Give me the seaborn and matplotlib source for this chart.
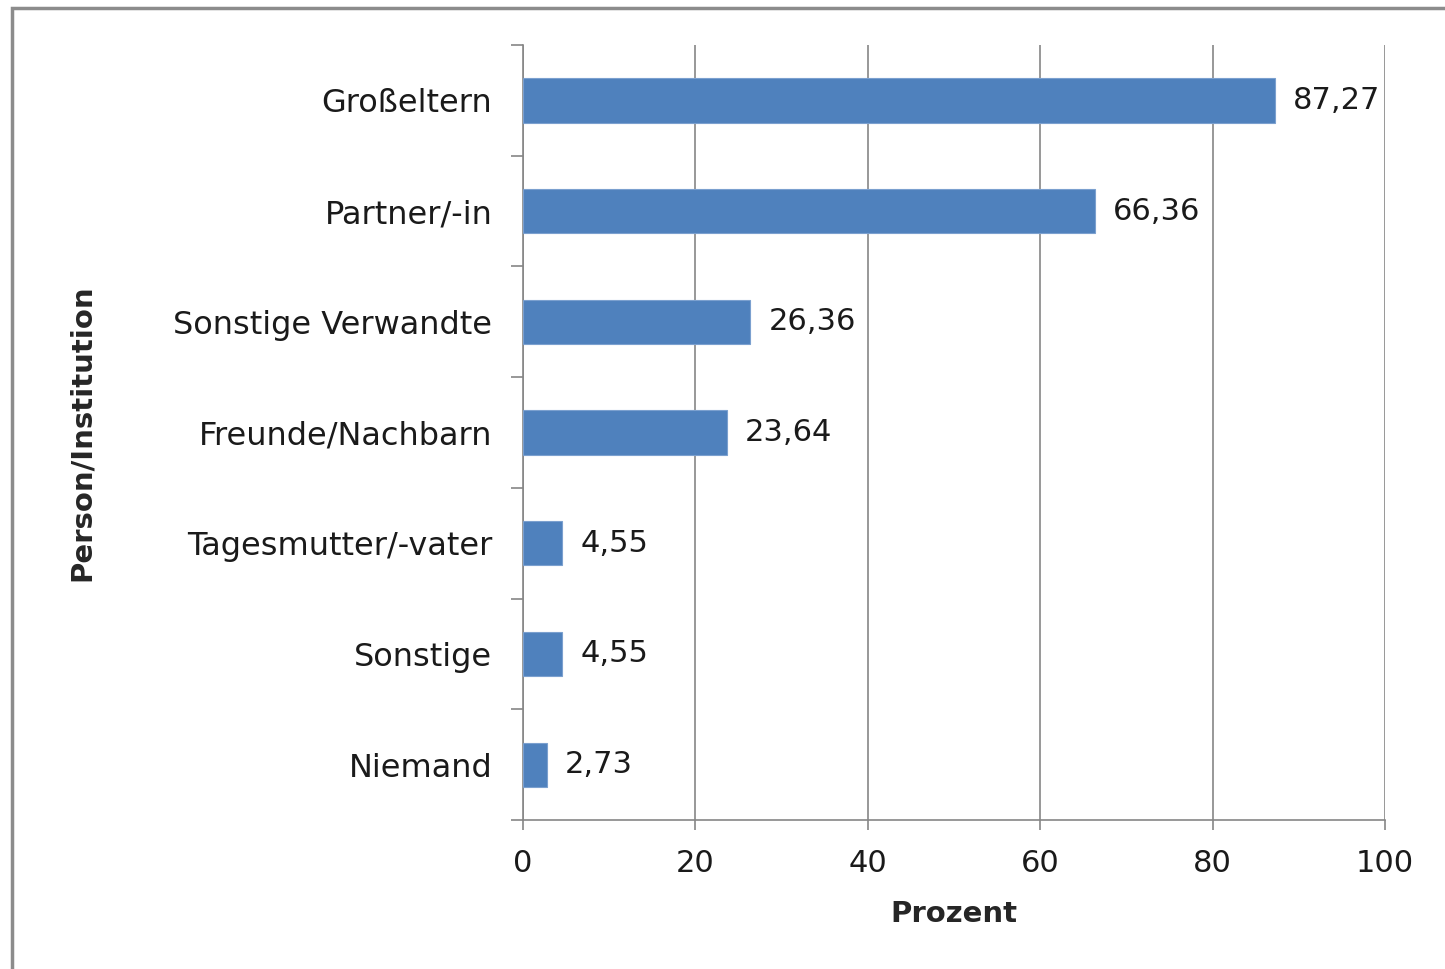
import matplotlib
matplotlib.use('Agg')
import matplotlib.pyplot as plt
import seaborn as sns
import pandas as pd
from matplotlib.patches import Rectangle
from matplotlib.ticker import FixedLocator

# Data
categories = ["Großeltern", "Partner/-in", "Sonstige Verwandte", "Freunde/Nachbarn",
              "Tagesmutter/-vater", "Sonstige", "Niemand"]
values = [87.27, 66.36, 26.36, 23.64, 4.55, 4.55, 2.73]
x_ticks = [0, 20, 40, 60, 80, 100]

bar_color = "#4F81BD"
grid_color = "#868686"

sns.set_theme(style="white")
plt.rcParams['font.family'] = ['DejaVu Sans']

df = pd.DataFrame({"Person/Institution": categories, "Prozent": values})

fig = plt.figure(figsize=(14.45, 9.69), dpi=100)
ax = fig.add_axes([523 / 1445, 1 - 820 / 969, (1385 - 523) / 1445, (820 - 45) / 969])

sns.barplot(data=df, x="Prozent", y="Person/Institution", orient="h",
            color=bar_color, width=0.4, saturation=1, ax=ax, zorder=3,
            edgecolor="#7BA0CF", linewidth=0.8)

ax.set_xlim(0, 100)
ax.set_ylim(len(categories) - 0.5, -0.5)
ax.xaxis.set_major_locator(FixedLocator(x_ticks))
ax.set_xticklabels([str(t) for t in x_ticks])
ax.grid(axis="x", color=grid_color, linewidth=1.2, zorder=0)
ax.grid(axis="y", visible=False)

for side in ["top", "right"]:
    ax.spines[side].set_visible(False)
for side in ["left", "bottom"]:
    ax.spines[side].set_color(grid_color)
    ax.spines[side].set_linewidth(1.2)

# category ticks sit between bars
ax.set_yticks(range(len(categories)))
ax.set_yticklabels(categories, fontsize=23, color="#1a1a1a")
ax.set_yticks([i - 0.5 for i in range(len(categories) + 1)], minor=True)
ax.tick_params(axis="y", which="major", left=True, length=0, pad=22)
ax.tick_params(axis="y", which="minor", left=True, length=9, width=1.2,
               color=grid_color, direction="out")
ax.tick_params(axis="x", which="major", bottom=True, length=7, width=1.2, color=grid_color,
               direction="out", labelsize=22, labelcolor="#1a1a1a", pad=14)

for i, v in enumerate(values):
    ax.text(v + 2.1, i, f"{v:.2f}".replace(".", ","), va="center", ha="left",
            fontsize=22, color="#1a1a1a", zorder=4)

ax.set_xlabel("Prozent", fontsize=21, fontweight="bold", labelpad=16)
ax.set_ylabel("Person/Institution", fontsize=21, fontweight="bold")
ax.yaxis.set_label_coords(-0.495, 0.5)

# outer chart frame (cut off at right and bottom like the screenshot)
fig.patches.append(Rectangle((12 / 1445, -0.1), 1.2, 1 - 8 / 969 + 0.1,
                             transform=fig.transFigure, fill=False,
                             edgecolor="#8C8C8C", linewidth=2.5))

fig.savefig("out.png", dpi=100)
